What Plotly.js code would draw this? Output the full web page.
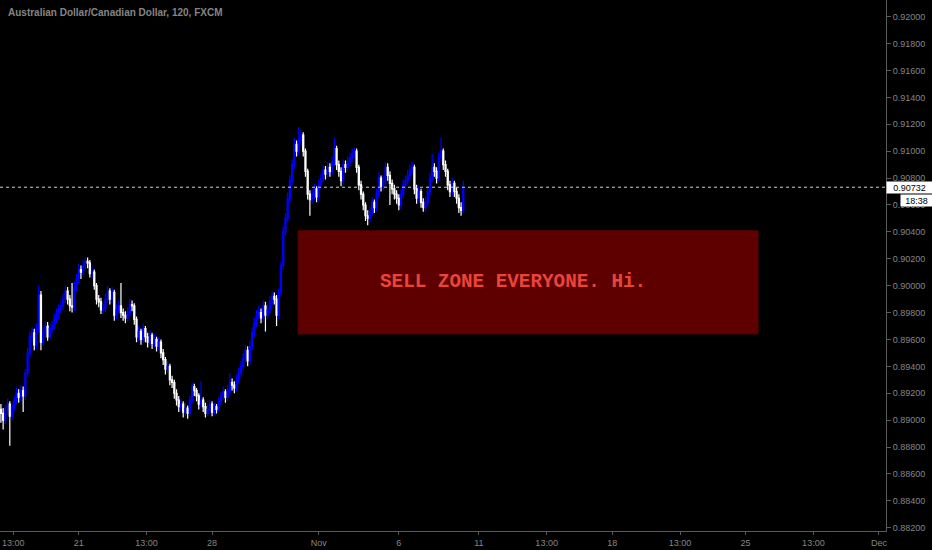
<!DOCTYPE html>
<html>
<head>
<meta charset="utf-8">
<script src="https://cdn.plot.ly/plotly-3.0.1.min.js"></script>
<style>
html,body{margin:0;padding:0;background:#000;}
#chart{width:932px;height:550px;}
</style>
</head>
<body>
<div id="chart"></div>
<script>
// 2-hour AUD/CAD candles (FXCM), first bar 2019-10-16 02:00, weekdays only
var startTime = "2019-10-16T02:00:00Z";
var barHours = 2;

var opens = [
0.8908,0.8905,0.8900,0.8908,0.8912,0.8903,0.8910,0.8915,0.8920,0.8917,
0.8922,0.8918,0.8935,0.8950,0.8962,0.8965,0.8956,0.8968,0.8993,0.8958,
0.8965,0.8970,0.8962,0.8968,0.8970,0.8975,0.8978,0.8982,0.8985,0.8990,
0.8996,0.8990,0.8985,0.8984,0.8999,0.9005,0.9012,0.9010,0.9015,0.9018,
0.9017,0.9009,0.9010,0.9000,0.8990,0.8988,0.8982,0.8983,0.8990,0.8996,
0.8990,0.8995,0.8978,0.8982,0.8985,0.8980,0.8978,0.8976,0.8980,0.8986,
0.8985,0.8975,0.8962,0.8966,0.8960,0.8968,0.8962,0.8958,0.8963,0.8957,
0.8960,0.8955,0.8958,0.8950,0.8945,0.8938,0.8940,0.8930,0.8928,0.8920,
0.8915,0.8910,0.8912,0.8906,0.8909,0.8905,0.8915,0.8925,0.8922,0.8918,
0.8912,0.8915,0.8910,0.8905,0.8908,0.8912,0.8906,0.8910,0.8908,0.8914,
0.8918,0.8921,0.8917,0.8922,0.8928,0.8926,0.8924,0.8930,0.8935,0.8940,
0.8946,0.8952,0.8944,0.8955,0.8965,0.8972,0.8978,0.8980,0.8976,0.8985,
0.8978,0.8982,0.8988,0.8992,0.8990,0.8978,0.8995,0.9015,0.9040,0.9050,
0.9065,0.9078,0.9090,0.9105,0.9100,0.9108,0.9112,0.9100,0.9085,0.9068,
0.9064,0.9068,0.9072,0.9066,0.9075,0.9080,0.9086,0.9083,0.9088,0.9085,
0.9092,0.9102,0.9090,0.9085,0.9078,0.9090,0.9088,0.9092,0.9095,0.9098,
0.9100,0.9088,0.9075,0.9068,0.9060,0.9052,0.9050,0.9055,0.9062,0.9058,
0.9068,0.9080,0.9074,0.9078,0.9088,0.9082,0.9076,0.9072,0.9068,0.9065,
0.9060,0.9068,0.9075,0.9078,0.9082,0.9086,0.9088,0.9072,0.9065,0.9070,
0.9062,0.9058,0.9062,0.9070,0.9080,0.9088,0.9085,0.9080,0.9095,0.9100,
0.9090,0.9085,0.9075,0.9070,0.9076,0.9070,0.9065,0.9058,0.9056
];
var highs = [
0.8912,0.8909,0.8911,0.8916,0.8914,0.8913,0.8918,0.8924,0.8923,0.8926,
0.8925,0.8938,0.8954,0.8966,0.8969,0.8968,0.8972,0.9000,0.8996,0.8969,
0.8974,0.8973,0.8972,0.8974,0.8979,0.8983,0.8986,0.8989,0.8994,0.9000,
0.8999,0.8993,0.9002,0.9003,0.9009,0.9016,0.9015,0.9019,0.9021,0.9021,
0.9019,0.9014,0.9012,0.9002,0.8993,0.8991,0.8987,0.8994,0.9000,0.8998,
0.8999,0.8997,0.8986,0.8989,0.9002,0.8983,0.8981,0.8984,0.8990,0.8989,
0.8987,0.8977,0.8970,0.8968,0.8972,0.8970,0.8965,0.8967,0.8965,0.8964,
0.8962,0.8962,0.8960,0.8953,0.8947,0.8944,0.8942,0.8933,0.8930,0.8923,
0.8918,0.8916,0.8914,0.8913,0.8911,0.8918,0.8928,0.8927,0.8924,0.8920,
0.8929,0.8917,0.8913,0.8912,0.8915,0.8914,0.8913,0.8912,0.8917,0.8921,
0.8925,0.8923,0.8926,0.8935,0.8931,0.8929,0.8934,0.8939,0.8944,0.8950,
0.8956,0.8955,0.8959,0.8969,0.8976,0.8982,0.8985,0.8983,0.8989,0.8988,
0.8986,0.8992,0.8996,0.8995,0.8993,0.8998,0.9018,0.9044,0.9054,0.9069,
0.9082,0.9094,0.9110,0.9108,0.9118,0.9116,0.9114,0.9102,0.9087,0.9071,
0.9072,0.9076,0.9074,0.9079,0.9084,0.9090,0.9089,0.9092,0.9091,0.9096,
0.9110,0.9104,0.9093,0.9088,0.9094,0.9093,0.9096,0.9099,0.9102,0.9103,
0.9102,0.9090,0.9078,0.9070,0.9062,0.9056,0.9059,0.9066,0.9064,0.9072,
0.9084,0.9082,0.9082,0.9092,0.9091,0.9085,0.9079,0.9075,0.9071,0.9068,
0.9072,0.9079,0.9082,0.9086,0.9090,0.9092,0.9090,0.9075,0.9074,0.9072,
0.9065,0.9066,0.9074,0.9084,0.9098,0.9091,0.9088,0.9099,0.9110,0.9102,
0.9093,0.9087,0.9078,0.9080,0.9078,0.9073,0.9068,0.9062,0.9078
];
var lows = [
0.8898,0.8893,0.8897,0.8904,0.8881,0.8900,0.8907,0.8912,0.8913,0.8914,
0.8906,0.8915,0.8932,0.8947,0.8958,0.8952,0.8953,0.8965,0.8952,0.8955,
0.8961,0.8959,0.8960,0.8965,0.8967,0.8972,0.8975,0.8979,0.8982,0.8987,
0.8986,0.8981,0.8980,0.8981,0.8996,0.9002,0.9005,0.9007,0.9012,0.9013,
0.9006,0.9005,0.8997,0.8986,0.8984,0.8979,0.8979,0.8980,0.8987,0.8986,
0.8987,0.8974,0.8975,0.8979,0.8976,0.8974,0.8972,0.8973,0.8977,0.8981,
0.8971,0.8958,0.8959,0.8956,0.8957,0.8958,0.8954,0.8955,0.8953,0.8954,
0.8951,0.8952,0.8946,0.8941,0.8934,0.8935,0.8926,0.8924,0.8916,0.8911,
0.8906,0.8907,0.8902,0.8903,0.8901,0.8903,0.8912,0.8918,0.8914,0.8908,
0.8909,0.8906,0.8902,0.8903,0.8905,0.8903,0.8904,0.8905,0.8906,0.8911,
0.8915,0.8913,0.8914,0.8919,0.8922,0.8920,0.8921,0.8927,0.8932,0.8937,
0.8943,0.8940,0.8941,0.8952,0.8962,0.8969,0.8975,0.8972,0.8973,0.8966,
0.8975,0.8979,0.8985,0.8986,0.8970,0.8975,0.8992,0.9012,0.9037,0.9047,
0.9062,0.9075,0.9087,0.9096,0.9097,0.9104,0.9096,0.9081,0.9064,0.9052,
0.9061,0.9064,0.9062,0.9063,0.9072,0.9077,0.9079,0.9080,0.9081,0.9082,
0.9089,0.9086,0.9081,0.9074,0.9075,0.9084,0.9085,0.9089,0.9092,0.9095,
0.9084,0.9071,0.9064,0.9056,0.9048,0.9045,0.9047,0.9052,0.9054,0.9055,
0.9065,0.9070,0.9071,0.9075,0.9078,0.9060,0.9068,0.9064,0.9061,0.9056,
0.9057,0.9065,0.9072,0.9075,0.9079,0.9083,0.9068,0.9061,0.9062,0.9058,
0.9055,0.9055,0.9059,0.9067,0.9077,0.9081,0.9076,0.9077,0.9092,0.9086,
0.9081,0.9071,0.9066,0.9067,0.9066,0.9061,0.9054,0.9052,0.9054
];
var closes = [
0.8905,0.8900,0.8908,0.8912,0.8903,0.8910,0.8915,0.8920,0.8917,0.8922,
0.8918,0.8935,0.8950,0.8962,0.8965,0.8956,0.8968,0.8993,0.8958,0.8965,
0.8970,0.8962,0.8968,0.8970,0.8975,0.8978,0.8982,0.8985,0.8990,0.8996,
0.8990,0.8985,0.8984,0.8999,0.9005,0.9012,0.9010,0.9015,0.9018,0.9017,
0.9009,0.9010,0.9000,0.8990,0.8988,0.8982,0.8983,0.8990,0.8996,0.8990,
0.8995,0.8978,0.8982,0.8985,0.8980,0.8978,0.8976,0.8980,0.8986,0.8985,
0.8975,0.8962,0.8966,0.8960,0.8968,0.8962,0.8958,0.8963,0.8957,0.8960,
0.8955,0.8958,0.8950,0.8945,0.8938,0.8940,0.8930,0.8928,0.8920,0.8915,
0.8910,0.8912,0.8906,0.8909,0.8905,0.8915,0.8925,0.8922,0.8918,0.8912,
0.8915,0.8910,0.8905,0.8908,0.8912,0.8906,0.8910,0.8908,0.8914,0.8918,
0.8921,0.8917,0.8922,0.8928,0.8926,0.8924,0.8930,0.8935,0.8940,0.8946,
0.8952,0.8944,0.8955,0.8965,0.8972,0.8978,0.8980,0.8976,0.8985,0.8978,
0.8982,0.8988,0.8992,0.8990,0.8978,0.8995,0.9015,0.9040,0.9050,0.9065,
0.9078,0.9090,0.9105,0.9100,0.9108,0.9112,0.9100,0.9085,0.9068,0.9064,
0.9068,0.9072,0.9066,0.9075,0.9080,0.9086,0.9083,0.9088,0.9085,0.9092,
0.9102,0.9090,0.9085,0.9078,0.9090,0.9088,0.9092,0.9095,0.9098,0.9100,
0.9088,0.9075,0.9068,0.9060,0.9052,0.9050,0.9055,0.9062,0.9058,0.9068,
0.9080,0.9074,0.9078,0.9088,0.9082,0.9076,0.9072,0.9068,0.9065,0.9060,
0.9068,0.9075,0.9078,0.9082,0.9086,0.9088,0.9072,0.9065,0.9070,0.9062,
0.9058,0.9062,0.9070,0.9080,0.9088,0.9085,0.9080,0.9095,0.9100,0.9090,
0.9085,0.9075,0.9070,0.9076,0.9070,0.9065,0.9058,0.9056,0.90732
];

var xTickVals = ["2019-10-16 13:00","2019-10-21 00:00","2019-10-23 13:00","2019-10-28 00:00",
  "2019-11-01 00:00","2019-11-06 00:00","2019-11-11 00:00","2019-11-13 13:00","2019-11-18 00:00",
  "2019-11-20 13:00","2019-11-25 00:00","2019-11-27 13:00","2019-12-02 00:00"];
var xTickText = ["13:00","21","13:00","28","Nov","6","11","13:00","18","13:00","25","13:00","Dec"];
var yTickVals = [0.882,0.884,0.886,0.888,0.890,0.892,0.894,0.896,0.898,0.900,
  0.902,0.904,0.906,0.908,0.910,0.912,0.914,0.916,0.918,0.920];

var lastPrice = 0.90732;
var countdown = "18:38";
var zone = {x0:"2019-10-31 05:15", x1:"2019-11-25 11:20", y0:0.8964, y1:0.9041,
  label:"SELL ZONE EVERYONE. Hi."};
var chartTitle = "Australian Dollar/Canadian Dollar, 120, FXCM";

// bar timestamps: consecutive 2h bars, skipping Saturday/Sunday
function pad(n){return (n<10?"0":"")+n;}
var times = [];
var t = new Date(startTime).getTime();
while (times.length < closes.length) {
  var d = new Date(t);
  var wd = d.getUTCDay();
  if (wd !== 0 && wd !== 6) {
    times.push(d.getUTCFullYear()+"-"+pad(d.getUTCMonth()+1)+"-"+pad(d.getUTCDate())+" "+
      pad(d.getUTCHours())+":"+pad(d.getUTCMinutes()));
  }
  t += barHours*3600*1000;
}

var trace = {
  type:"candlestick",
  x:times, open:opens, high:highs, low:lows, close:closes,
  increasing:{line:{color:"#0000ff", width:1.2}, fillcolor:"#0000ff"},
  decreasing:{line:{color:"#ffffff", width:1.2}, fillcolor:"#ffffff"},
  whiskerwidth:0,
  hoverinfo:"skip"
};

var axisGray = "#5a5a5a";
var labelGray = "#858585";

var layout = {
  width:932, height:550,
  margin:{l:0, r:46, t:0, b:19, pad:0},
  paper_bgcolor:"#000000",
  plot_bgcolor:"#000000",
  showlegend:false,
  xaxis:{
    type:"date",
    range:["2019-10-16 01:10","2019-12-02 06:20"],
    rangebreaks:[{bounds:["sat","mon"]}],
    rangeslider:{visible:false},
    showgrid:false, zeroline:false,
    showline:true, linecolor:axisGray, linewidth:1,
    ticks:"outside", ticklen:3, tickcolor:axisGray,
    tickmode:"array", tickvals:xTickVals, ticktext:xTickText,
    tickfont:{family:"Liberation Sans, Arial, sans-serif", size:9, color:labelGray},
    fixedrange:true
  },
  yaxis:{
    side:"right",
    range:[0.88176, 0.92124],
    showgrid:false, zeroline:false,
    showline:true, linecolor:axisGray, linewidth:1,
    ticks:"outside", ticklen:4, tickcolor:axisGray,
    tickmode:"array", tickvals:yTickVals, tickformat:".5f",
    tickfont:{family:"Liberation Sans, Arial, sans-serif", size:9, color:labelGray},
    fixedrange:true
  },
  shapes:[
    {type:"rect", xref:"x", yref:"y", x0:zone.x0, x1:zone.x1, y0:zone.y0, y1:zone.y1,
     fillcolor:"#5e0000", line:{color:"#480000", width:1}, layer:"below"},
    {type:"line", xref:"paper", yref:"y", x0:0, x1:1, y0:lastPrice, y1:lastPrice,
     line:{color:"#d0d0d0", width:1, dash:"dot"}}
  ],
  annotations:[
    {xref:"paper", yref:"paper", x:0, y:1, xanchor:"left", yanchor:"top",
     xshift:6, yshift:-5, showarrow:false, text:"<b>"+chartTitle+"</b>",
     font:{family:"Liberation Sans, Arial, sans-serif", size:10, color:"#858585"}},
    {xref:"paper", yref:"y", x:0.579, y:(zone.y0+zone.y1)/2, xanchor:"center", yanchor:"middle",
     showarrow:false, text:"<b>"+zone.label+"</b>",
     font:{family:"Liberation Mono, Courier New, monospace", size:19.3, color:"#ea453b"}},
    {xref:"paper", yref:"y", x:1, y:lastPrice, xanchor:"left", yanchor:"middle",
     xshift:0, showarrow:false, text:lastPrice.toFixed(5), bgcolor:"#ffffff",
     width:45, height:11, borderpad:0, align:"center",
     font:{family:"Liberation Sans, Arial, sans-serif", size:9, color:"#000000"}},
    {xref:"paper", yref:"y", x:1, y:lastPrice, xanchor:"left", yanchor:"middle",
     xshift:14, yshift:-13, showarrow:false, text:countdown, bgcolor:"#ffffff",
     width:31, height:11, borderpad:0, align:"center",
     font:{family:"Liberation Sans, Arial, sans-serif", size:9, color:"#000000"}}
  ]
};

Plotly.newPlot("chart", [trace], layout, {staticPlot:true, displayModeBar:false});
</script>
</body>
</html>
